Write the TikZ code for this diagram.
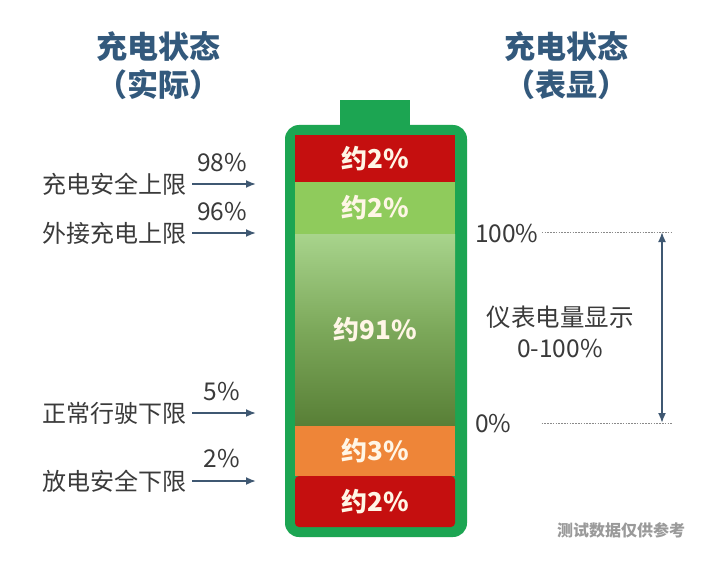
\documentclass[tikz,border=0pt]{standalone}
\usepackage{fontspec}
\setmainfont{Noto Sans CJK SC}
\usetikzlibrary{arrows.meta}
\definecolor{battgreen}{HTML}{1CA552}
\definecolor{segred}{HTML}{C50F0F}
\definecolor{seglight}{HTML}{8FCB5C}
\definecolor{gradtop}{HTML}{A8D48C}
\definecolor{gradmid}{HTML}{7CA85A}
\definecolor{gradbot}{HTML}{587F36}
\definecolor{segorange}{HTML}{EE8538}
\definecolor{headblue}{HTML}{33597C}
\definecolor{txtgray}{HTML}{3A3A3A}
\definecolor{arrblue}{HTML}{3F5872}
\definecolor{markgray}{HTML}{8A8A8A}
\definecolor{wmgray}{HTML}{9A9A9A}
\definecolor{cream}{HTML}{FFF6E6}
\begin{document}
\begin{tikzpicture}[x=1pt,y=-1pt,
  seg/.style={minimum width=160pt,inner sep=0pt,text=cream,font=\fontsize{26}{28}\selectfont\bfseries},
  head/.style={text=headblue,font=\fontsize{31}{33}\selectfont\bfseries},
  lab/.style={text=txtgray,font=\fontsize{24}{26}\selectfont,inner sep=0pt},
  pct/.style={text=txtgray,font=\fontsize{24.5}{26}\selectfont,inner sep=0pt},
  arr/.style={draw=arrblue,line width=1.8pt,-{Latex[length=10pt,width=8pt]}},
  darr/.style={draw=arrblue,line width=1.8pt,{Latex[length=10pt,width=8pt]}-{Latex[length=10pt,width=8pt]}},
  dashline/.style={draw=markgray,line width=0.9pt,dash pattern=on 1.6pt off 1.2pt}]
\useasboundingbox (0,0) rectangle (728,572);
\fill[white] (0,0) rectangle (728,572);
% headings
\node[head] (h1) at (158,47) {充电状态};
\node[head] (h2) at (158,85) {（实际）};
\node[head] (h3) at (566,47) {充电状态};
\node[head] (h4) at (566,85) {（表显）};
% battery
\fill[battgreen] (340,100) rectangle (410,128);
\fill[battgreen,rounded corners=14pt] (285,125) rectangle (467,537);
\node[seg,fill=segred,minimum height=47pt] (s1) at (375,158.5) {约2\%};
\node[seg,fill=seglight,minimum height=52pt] (s2) at (375,208) {约2\%};
\shade[top color=gradtop,bottom color=gradbot,middle color=gradmid] (295,234) rectangle (455,426);
\node[seg,minimum height=192pt] (s3) at (375,330) {约91\%};
\node[seg,fill=segorange,minimum height=50pt] (s4) at (375,451) {约3\%};
\fill[segred,rounded corners=4pt] (295,476) rectangle (455,527);
\node[seg,minimum height=51pt] (s5) at (375,501.5) {约2\%};
% left labels
\coordinate (ax) at (256,0);
\node[lab,anchor=east] (l1) at (187,184) {充电安全上限};
\node[lab,anchor=east] (l2) at (187,233) {外接充电上限};
\node[lab,anchor=east] (l3) at (187,413) {正常行驶下限};
\node[lab,anchor=east] (l4) at (187,481) {放电安全下限};
\node[pct] (p1) at (222,163) {98\%};
\node[pct] (p2) at (222,212) {96\%};
\node[pct] (p3) at (222,392) {5\%};
\node[pct] (p4) at (222,459) {2\%};
\draw[arr] ([xshift=5pt]l1.east) -- (l1.east -| ax);
\draw[arr] ([xshift=5pt]l2.east) -- (l2.east -| ax);
\draw[arr] ([xshift=5pt]l3.east) -- (l3.east -| ax);
\draw[arr] ([xshift=5pt]l4.east) -- (l4.east -| ax);
% right side
\node[pct,anchor=west] (r100) at (475,234) {100\%};
\node[pct,anchor=west] (r0) at (475,424) {0\%};
\coordinate (d100) at (672,232);
\coordinate (d0) at (672,423);
\coordinate (t100) at (662,232);
\coordinate (t0) at (662,423);
\draw[dashline] ([xshift=3pt]r100.east |- d100) -- (d100);
\draw[dashline] ([xshift=30pt]r0.east |- d0) -- (d0);
\draw[darr] (t100) -- (t0);
\node[lab,font=\fontsize{24.5}{26}\selectfont] (m1) at (560,317) {仪表电量显示};
\node[pct] (m2) at (560,349) {0-100\%};
% watermark
\node[text=wmgray,font=\fontsize{16}{17}\selectfont\bfseries,inner sep=0pt] (wm) at (621,530) {测试数据仅供参考};
\end{tikzpicture}
\end{document}
